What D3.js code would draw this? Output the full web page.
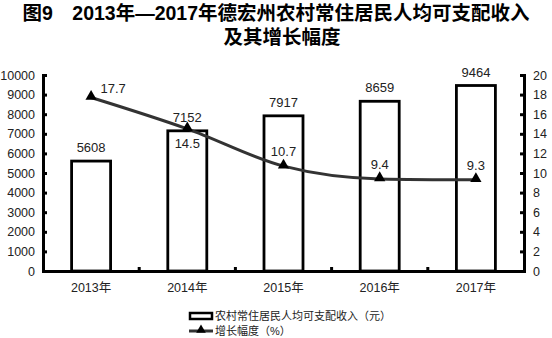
<!DOCTYPE html>
<html>
<head>
<meta charset="utf-8">
<script src="https://cdn.jsdelivr.net/npm/d3@7"></script>
<style>
  body { margin: 0; background: #fff; }
  text { font-family: "Liberation Sans", Arial, "Noto Sans CJK SC", sans-serif; }
</style>
</head>
<body>
<div id="chart"></div>
<script>
// data
var years = ["2013年", "2014年", "2015年", "2016年", "2017年"];
var income = [5608, 7152, 7917, 8659, 9464];
var growth = [17.7, 14.5, 10.7, 9.4, 9.3];
var leftTicks = [0, 1000, 2000, 3000, 4000, 5000, 6000, 7000, 8000, 9000, 10000];
var rightTicks = [0, 2, 4, 6, 8, 10, 12, 14, 16, 18, 20];
// label placement for the growth values: above, below, right-above
var growthLabelPos = ["ra", "below", "above", "above", "above"];

var width = 552, height = 338;
var margin = {top: 75, left: 43, right: 28, bottom: 67};
var cjk = '"Liberation Sans", Arial, "Noto Sans CJK SC", sans-serif';

var svg = d3.select("#chart").append("svg")
  .attr("width", width)
  .attr("height", height);

// title
svg.append("text")
  .attr("x", 276).attr("y", 20)
  .attr("text-anchor", "middle")
  .style("font-size", "19.5px").style("font-weight", "bold")
  .text("图9\u30002013年—2017年德宏州农村常住居民人均可支配收入");
svg.append("text")
  .attr("x", 282).attr("y", 44)
  .attr("text-anchor", "middle")
  .style("font-size", "19.5px").style("font-weight", "bold")
  .text("及其增长幅度");

var x = d3.scaleBand()
  .domain(years)
  .range([margin.left, width - margin.right]);
var yL = d3.scaleLinear().domain([0, 10000]).range([height - margin.bottom, margin.top]);
var yR = d3.scaleLinear().domain([0, 20]).range([height - margin.bottom, margin.top]);

var barW = 39;

// bars
svg.selectAll(".bar")
  .data(income)
  .enter().append("rect")
  .attr("class", "bar")
  .attr("x", function(d, i) { return x(years[i]) + x.bandwidth() / 2 - barW / 2; })
  .attr("y", function(d) { return yL(d); })
  .attr("width", barW)
  .attr("height", function(d) { return yL(0) - yL(d); })
  .attr("fill", "#fff")
  .attr("stroke", "#000")
  .attr("stroke-width", 2.8);

// bar labels
svg.selectAll(".barlabel")
  .data(income)
  .enter().append("text")
  .attr("x", function(d, i) { return x(years[i]) + x.bandwidth() / 2; })
  .attr("y", function(d) { return yL(d) - 9; })
  .attr("text-anchor", "middle")
  .style("font-size", "13px")
  .attr("fill", "#222")
  .text(function(d) { return d; });

// left axis
var axL = svg.append("g")
  .attr("transform", "translate(" + margin.left + ",0)")
  .call(d3.axisLeft(yL).tickValues(leftTicks).tickFormat(d3.format("d")).tickSize(-4).tickPadding(8));
axL.select(".domain").attr("stroke-width", 3);
axL.selectAll(".tick line").attr("stroke-width", 3);
axL.selectAll(".tick text").style("font-size", "12.5px").attr("fill", "#222").style("font-family", cjk);

// right axis
var axR = svg.append("g")
  .attr("transform", "translate(" + (width - margin.right) + ",0)")
  .call(d3.axisRight(yR).tickValues(rightTicks).tickSize(-4).tickPadding(9));
axR.select(".domain").attr("stroke-width", 3);
axR.selectAll(".tick line").attr("stroke-width", 3);
axR.selectAll(".tick text").style("font-size", "12.5px").attr("fill", "#222").style("font-family", cjk);

// x axis
var axX = svg.append("g")
  .attr("transform", "translate(0," + yL(0) + ")")
  .call(d3.axisBottom(x).tickSize(0).tickPadding(12));
axX.select(".domain").attr("stroke-width", 3);
axX.selectAll(".tick text").style("font-size", "12.5px").attr("fill", "#222").style("font-family", cjk);

// small ticks between categories, pointing up
svg.selectAll(".xtick")
  .data(years.slice(1))
  .enter().append("line")
  .attr("x1", function(d) { return x(d); })
  .attr("x2", function(d) { return x(d); })
  .attr("y1", yL(0))
  .attr("y2", yL(0) - 4)
  .attr("stroke", "#000")
  .attr("stroke-width", 3);

// growth line
var line = d3.line()
  .x(function(d, i) { return x(years[i]) + x.bandwidth() / 2; })
  .y(function(d) { return yR(d); })
  .curve(d3.curveMonotoneX);

svg.append("path")
  .datum(growth)
  .attr("d", line)
  .attr("fill", "none")
  .attr("stroke", "#333")
  .attr("stroke-width", 3);

var tri = d3.symbol().type(d3.symbolTriangle).size(55);
svg.selectAll(".marker")
  .data(growth)
  .enter().append("path")
  .attr("d", tri)
  .attr("transform", function(d, i) {
    return "translate(" + (x(years[i]) + x.bandwidth() / 2) + "," + (yR(d) - 1) + ")";
  })
  .attr("fill", "#000");

svg.selectAll(".glabel")
  .data(growth)
  .enter().append("text")
  .attr("x", function(d, i) {
    var cx = x(years[i]) + x.bandwidth() / 2;
    return growthLabelPos[i] === "ra" ? cx + 22 : cx;
  })
  .attr("y", function(d, i) {
    var p = growthLabelPos[i];
    if (p === "below") return yR(d) + 19;
    if (p === "ra") return yR(d) - 5;
    return yR(d) - 10;
  })
  .attr("text-anchor", "middle")
  .style("font-size", "13px")
  .attr("fill", "#222")
  .text(function(d) { return d.toFixed(1); });

// legend
var lg = svg.append("g").attr("transform", "translate(189,0)");
lg.append("rect")
  .attr("x", 1).attr("y", 313)
  .attr("width", 22).attr("height", 6)
  .attr("fill", "#fff").attr("stroke", "#000").attr("stroke-width", 2.5);
lg.append("text")
  .attr("x", 26).attr("y", 320)
  .style("font-size", "11px").attr("fill", "#222")
  .text("农村常住居民人均可支配收入（元）");
lg.append("line")
  .attr("x1", 0).attr("x2", 24).attr("y1", 331).attr("y2", 331)
  .attr("stroke", "#333").attr("stroke-width", 3);
lg.append("path")
  .attr("d", d3.symbol().type(d3.symbolTriangle).size(40))
  .attr("transform", "translate(12,330)")
  .attr("fill", "#000");
lg.append("text")
  .attr("x", 26).attr("y", 335)
  .style("font-size", "11px").attr("fill", "#222")
  .text("增长幅度（%）");
</script>
</body>
</html>
